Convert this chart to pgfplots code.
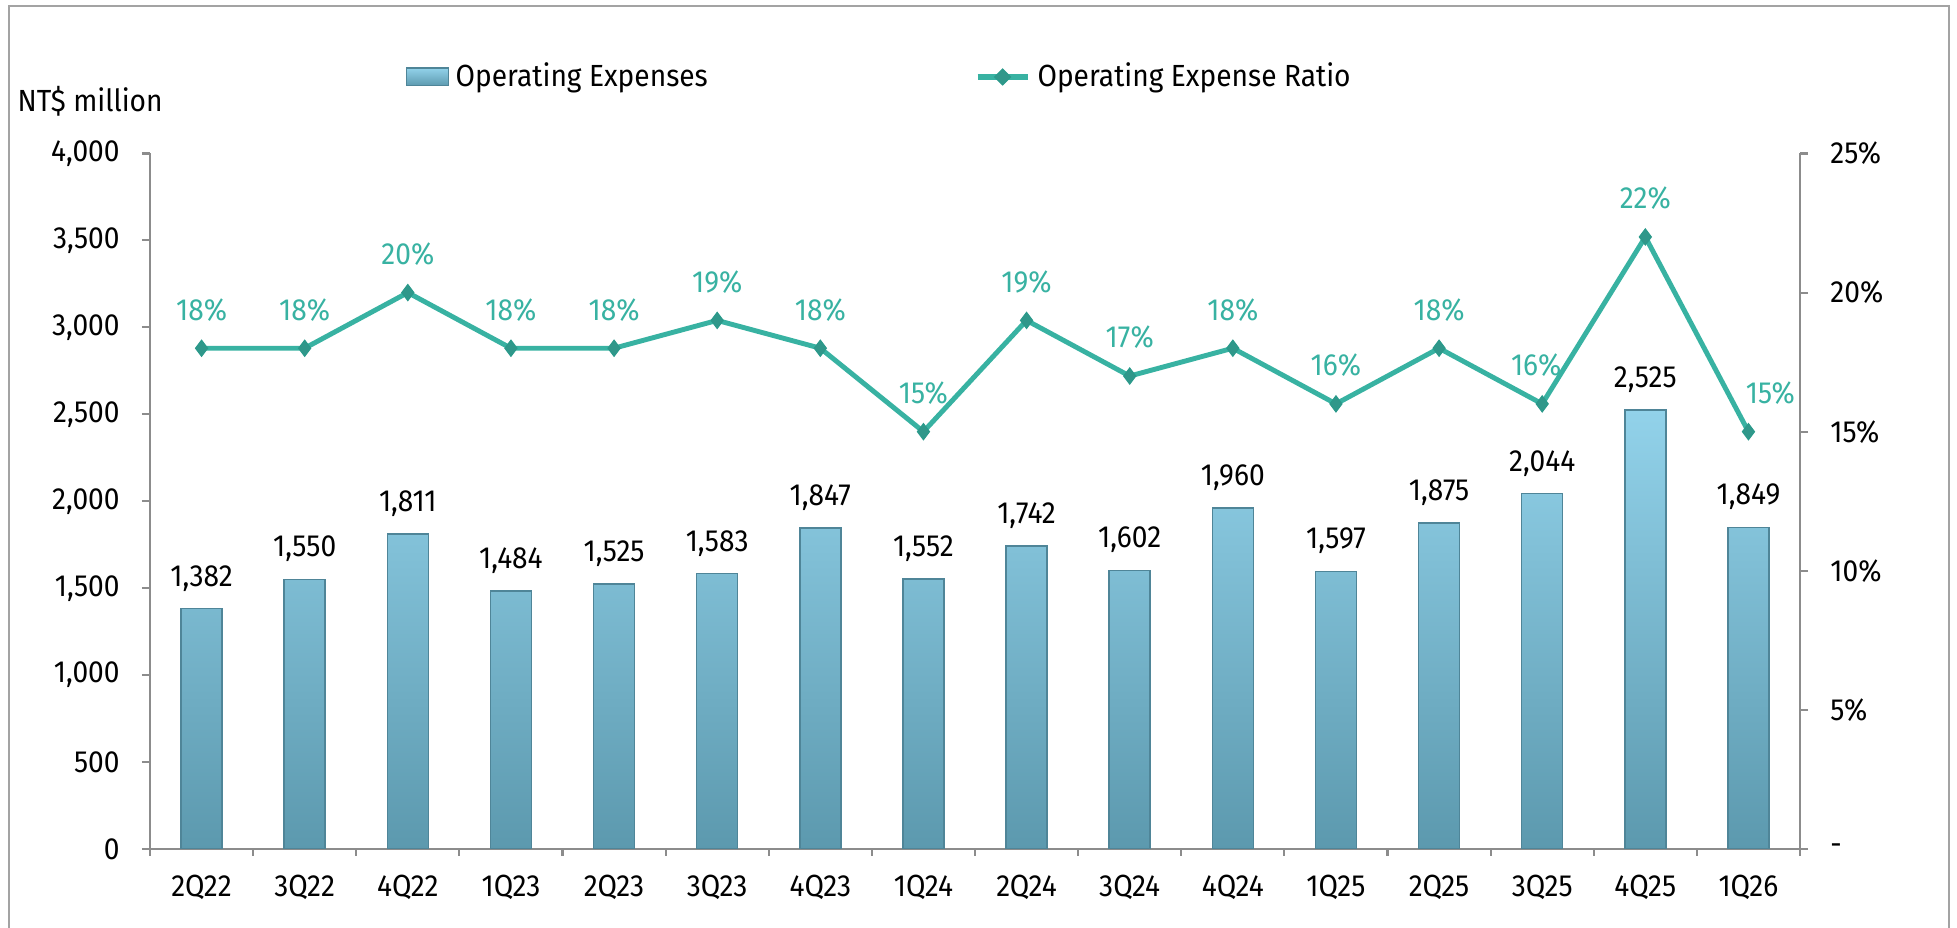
\documentclass[border=0pt]{standalone}
\usepackage{pgfplots}
\usepackage{pgfplotstable}
\pgfplotsset{compat=1.18}
\usepackage{fontspec}
\setmainfont{Fira Sans}[FakeStretch=0.92]
\definecolor{barTop}{HTML}{92D2EA}
\definecolor{barBot}{HTML}{5C99AE}
\definecolor{barEdge}{HTML}{4F8598}
\definecolor{tealL}{HTML}{38B2A2}
\definecolor{tealD}{HTML}{2A9A8B}
\definecolor{axgray}{HTML}{8C8C8C}
\pgfplotstableread{
x y dx
0 18 0
1 18 0
2 20 0
3 18 0
4 18 0
5 19 0
6 18 0
7 15 0
8 19 0
9 17 0
10 18 0
11 16 0
12 18 0
13 16 -0.06
14 22 0
15 15 0.22
}\ratiotable
\begin{document}
\begin{tikzpicture}
\useasboundingbox (0,0) rectangle (19.57,9.28);
\draw[axgray!80, line width=0.6pt] (0.09,0) -- (0.09,9.22) -- (19.49,9.22) -- (19.49,0);
\node[anchor=west, inner sep=0pt, font=\fontsize{8.7}{10}\selectfont] at (0.17,8.27) {NT\$ million};
\pgfplotsset{
  base/.style={
    scale only axis, width=16.5cm, height=6.955cm,
    at={(1.5cm,0.79cm)}, anchor=south west,
    xmin=-0.5, xmax=15.5,
    tick style={axgray, line width=0.6pt},
    major tick length=0.08cm, tick align=outside,
    axis line style={axgray, line width=0.6pt},
    ticklabel style={font=\fontsize{8.7}{10}\selectfont, black},
    /pgf/number format/assume math mode=true,
  }
}
\begin{axis}[base,
  ymin=0, ymax=4000, ytick={0,500,...,4000},
  axis y line*=left, axis x line*=bottom,
  xtick={0,...,15},
  xticklabels={2Q22,3Q22,4Q22,1Q23,2Q23,3Q23,4Q23,1Q24,2Q24,3Q24,4Q24,1Q25,2Q25,3Q25,4Q25,1Q26},
  major x tick style={draw=none},
  minor xtick={-0.5,0.5,...,15.5},
  minor tick length=0.07cm,
  xticklabel style={yshift=-0.06cm},
  yticklabel style={/pgf/number format/1000 sep={,}, xshift=-0.1cm},
  legend style={at={(0.1545,1.11)}, anchor=west, draw=none, fill=none, inner sep=0pt,
    font=\fontsize{8.7}{10}\selectfont, legend columns=2,
    /tikz/every even column/.append style={column sep=2.6cm}},
  legend cell align=left,
]
\addplot[ybar, bar width=0.41cm, bar shift=0pt, draw=barEdge, line width=0.4pt,
  top color=barTop, bottom color=barBot,
  nodes near coords,
  nodes near coords style={black, font=\fontsize{8.7}{10}\selectfont, /pgf/number format/1000 sep={,}, yshift=0.05cm},
  legend image code/.code={\draw[draw=barEdge, top color=barTop, bottom color=barBot, line width=0.3pt] (0cm,-0.09cm) rectangle (0.42cm,0.09cm);}
] coordinates {
(0,1382) (1,1550) (2,1811) (3,1484) (4,1525) (5,1583) (6,1847) (7,1552)
(8,1742) (9,1602) (10,1960) (11,1597) (12,1875) (13,2044) (14,2525) (15,1849)
};
\addlegendentry{Operating Expenses}
\addlegendimage{tealL, line width=1.4pt, mark=diamond*, mark size=2.2pt, mark options={fill=tealL!85!black, draw=tealD, line width=0.3pt},
  legend image code/.code={\draw[tealL, line width=1.6pt] (0cm,0cm) -- (0.5cm,0cm); \draw[fill=tealL!85!black, draw=tealD, line width=0.3pt] (0.25cm,0.08cm) -- (0.33cm,0cm) -- (0.25cm,-0.08cm) -- (0.17cm,0cm) -- cycle;}}
\addlegendentry{Operating Expense Ratio}
\end{axis}
\begin{axis}[base,
  ymin=0, ymax=25, ytick={0,5,...,25},
  yticklabels={-,5\%,10\%,15\%,20\%,25\%},
  axis y line*=right, axis x line=none,
  yticklabel style={xshift=0.1cm},
]
\addplot[tealL, line width=1.4pt, mark=diamond*, mark size=2.3pt,
  mark options={fill=tealL!85!black, draw=tealD, line width=0.3pt},
  visualization depends on={\thisrow{dx} \as \dxval},
  nodes near coords={\pgfmathprintnumber{\pgfplotspointmeta}\%},
  nodes near coords style={tealL, font=\fontsize{8.7}{10}\selectfont, yshift=0.15cm, xshift=\dxval cm},
] table[x=x, y=y] {\ratiotable};
\end{axis}
\end{tikzpicture}
\end{document}
